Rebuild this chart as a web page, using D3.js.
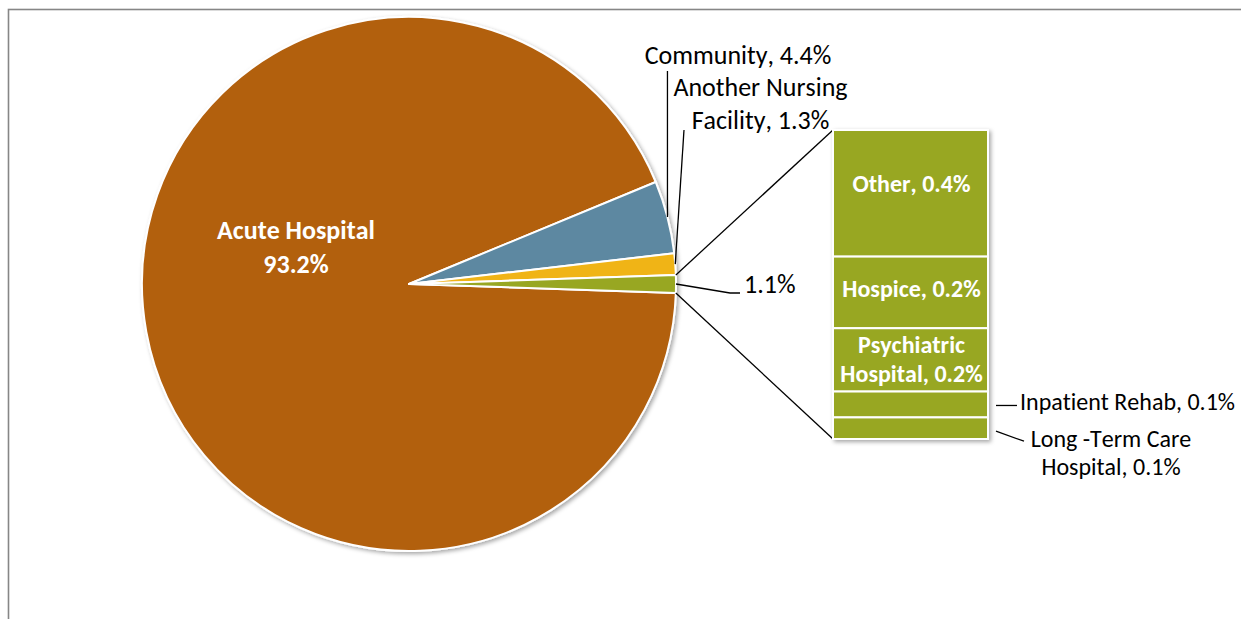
<!DOCTYPE html>
<html>
<head>
<meta charset="utf-8">
<script src="https://cdn.jsdelivr.net/npm/d3@7"></script>
<style>
  html, body { margin: 0; padding: 0; background: #fff; overflow: hidden; }
  svg { display: block; font-family: Calibri, Carlito, "Open Sans", sans-serif;
        font-variant-ligatures: none; font-kerning: none; }
</style>
</head>
<body>
<svg id="chart" width="1241" height="619"></svg>
<script>
// Main pie: admission source shares (%)
const pieCategories = ["Acute Hospital", "Community", "Another Nursing Facility"];
const pieValues = [93.2, 4.4, 1.3];
const pieColors = ["#B2600F", "#5D88A1", "#F0B418"];

// Breakdown of the remaining settings shown in the stacked bar (%)
const barCategories = ["Other", "Hospice", "Psychiatric Hospital", "Inpatient Rehab", "Long -Term Care Hospital"];
const barValues = [0.44, 0.249, 0.22, 0.09, 0.075];
const otherColor = "#98A724";

const svg = d3.select("#chart");
const fmt = d3.format(".1f");

// Drop shadow used under the pie and the bar
const defs = svg.append("defs");
const shadow = defs.append("filter").attr("id", "shadow")
  .attr("x", "-10%").attr("y", "-10%").attr("width", "130%").attr("height", "130%");
shadow.append("feDropShadow")
  .attr("dx", 2).attr("dy", 2).attr("stdDeviation", 2.2)
  .attr("flood-color", "#000").attr("flood-opacity", 0.35);

// Chart frame
svg.append("rect")
  .attr("x", 8.5).attr("y", 9.5).attr("width", 1400).attr("height", 800)
  .attr("fill", "none").attr("stroke", "#868686").attr("stroke-width", 1.6);

// ---- Pie ----
const cx = 409, cy = 284, r = 267;
const otherTotal = d3.sum(barValues);
const pieData = pieCategories.map((c, i) => ({ name: c, value: pieValues[i], color: pieColors[i] }))
  .concat([{ name: "Other settings", value: otherTotal, color: otherColor }]);
const total = d3.sum(pieData, d => d.value);

// Rotate so the combined slice is centred at 3 o'clock
const start = Math.PI / 2 + (otherTotal / total) * Math.PI;
const pie = d3.pie().sort(null).value(d => d.value)
  .startAngle(start).endAngle(start + 2 * Math.PI);
const arcs = pie(pieData);

const arc = d3.arc().innerRadius(0).outerRadius(r);
const edgeAt = a => [cx + r * Math.sin(a), cy - r * Math.cos(a)];

const gPie = svg.append("g").attr("transform", `translate(${cx},${cy})`)
  .attr("filter", "url(#shadow)");
gPie.selectAll("path").data(arcs).join("path")
  .attr("d", arc)
  .attr("fill", d => d.data.color)
  .attr("stroke", "#fff").attr("stroke-width", 2).attr("stroke-linejoin", "round");

// Acute Hospital label inside its slice
const acute = svg.append("text")
  .attr("text-anchor", "middle").attr("fill", "#fff")
  .attr("font-weight", "bold").attr("font-size", 26);
acute.append("tspan").attr("x", 296).attr("y", 239).text(pieCategories[0]);
acute.append("tspan").attr("x", 296).attr("y", 273).text(fmt(pieValues[0]) + "%");

const leader = (pts) => svg.append("path")
  .attr("d", d3.line()(pts))
  .attr("fill", "none").attr("stroke", "#000").attr("stroke-width", 1.3);

const labelStyle = (sel, size) => sel.attr("fill", "#000").attr("font-size", size);

// Community
{
  const a = arcs[1];
  const p = edgeAt((a.startAngle + a.endAngle) / 2);
  leader([p, [p[0], 71]]);
  labelStyle(svg.append("text"), 26).attr("text-anchor", "middle")
    .attr("x", 738).attr("y", 64).text(`${pieCategories[1]}, ${fmt(pieValues[1])}%`);
}
// Another Nursing Facility
{
  const a = arcs[2];
  const p = edgeAt((a.startAngle + a.endAngle) / 2);
  leader([p, [684, 130]]);
  const t = labelStyle(svg.append("text"), 26).attr("text-anchor", "middle");
  t.append("tspan").attr("x", 760.5).attr("y", 96).text("Another Nursing");
  t.append("tspan").attr("x", 760.5).attr("y", 129).text(`Facility, ${fmt(pieValues[2])}%`);
}
// Combined slice
const oa = arcs[3];
{
  const p = edgeAt((oa.startAngle + oa.endAngle) / 2);
  leader([p, [730, 293], [740, 293]]);
  labelStyle(svg.append("text"), 26).attr("x", 744).attr("y", 293).text(`${fmt(otherTotal)}%`);
}

// ---- Stacked bar ----
const bx0 = 833, bx1 = 988, by0 = 130, by1 = 439;
const y = d3.scaleLinear().domain([0, otherTotal]).range([by0, by1]);
const cum = d3.cumsum(barValues);
const segs = barValues.map((v, i) => ({
  name: barCategories[i], value: v, y0: cum[i] - v, y1: cum[i]
}));

// Connectors from the combined slice to the bar
leader([edgeAt(oa.startAngle), [bx0, by0]]);
leader([edgeAt(oa.endAngle), [bx0, by1]]);

const gBar = svg.append("g").attr("filter", "url(#shadow)");
gBar.selectAll("rect").data(segs).join("rect")
  .attr("x", bx0).attr("width", bx1 - bx0)
  .attr("y", d => y(d.y0)).attr("height", d => y(d.y1) - y(d.y0))
  .attr("fill", otherColor).attr("stroke", "#fff").attr("stroke-width", 2);

// Labels inside the tall segments
const inner = svg.append("g").attr("fill", "#fff").attr("font-weight", "bold")
  .attr("font-size", 24).attr("text-anchor", "middle");
const mid = d => (y(d.y0) + y(d.y1)) / 2;
const bxm = (bx0 + bx1) / 2 + 1;
inner.append("text").attr("x", bxm).attr("y", mid(segs[0]) - 1)
  .text(`${segs[0].name}, ${fmt(segs[0].value)}%`);
inner.append("text").attr("x", bxm).attr("y", mid(segs[1]) + 5)
  .text(`${segs[1].name}, ${fmt(segs[1].value)}%`);
{
  const t = inner.append("text");
  t.append("tspan").attr("x", bxm).attr("y", mid(segs[2]) - 7).text("Psychiatric");
  t.append("tspan").attr("x", bxm).attr("y", mid(segs[2]) + 22)
    .text(`Hospital, ${fmt(segs[2].value)}%`);
}

// Labels beside the thin segments
{
  const yy = mid(segs[3]) + 1;
  leader([[bx1 + 8, yy], [bx1 + 29, yy]]);
  labelStyle(svg.append("text"), 24).attr("x", 1020).attr("y", yy + 5)
    .text(`${segs[3].name}, ${fmt(segs[3].value)}%`);
}
{
  const yy = mid(segs[4]) + 3;
  leader([[bx1 + 8, yy], [1024, yy + 10]]);
  const t = labelStyle(svg.append("text"), 24).attr("text-anchor", "middle");
  t.append("tspan").attr("x", 1111).attr("y", 447).text("Long -Term Care");
  t.append("tspan").attr("x", 1111).attr("y", 475).text(`Hospital, ${fmt(segs[4].value)}%`);
}
</script>
</body>
</html>
